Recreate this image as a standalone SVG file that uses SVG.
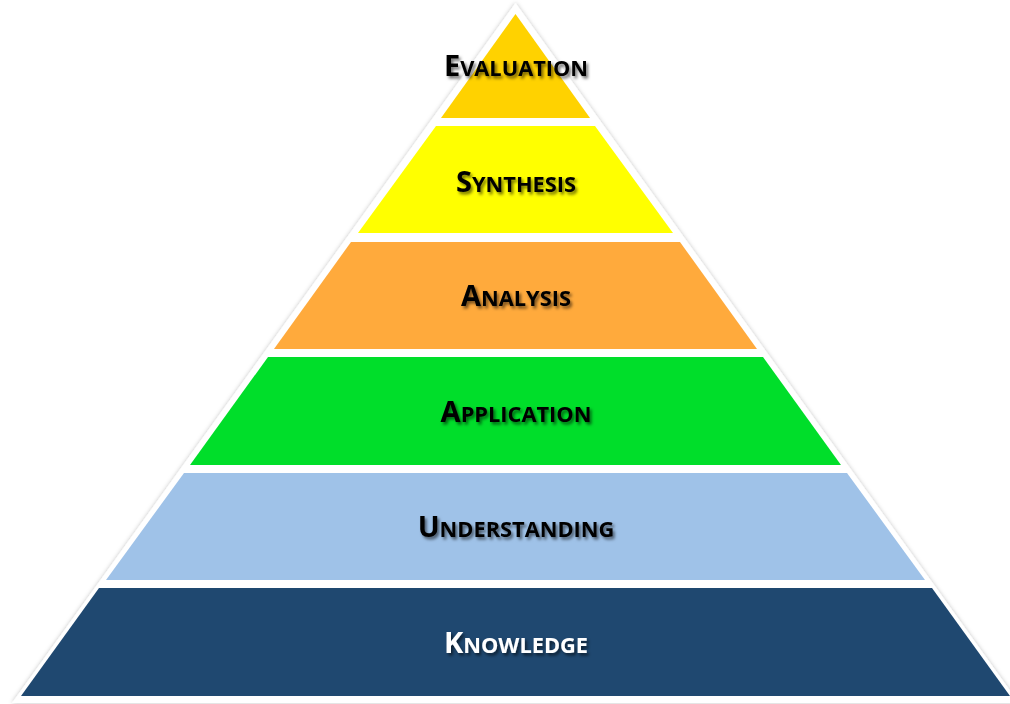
<svg xmlns="http://www.w3.org/2000/svg" width="1010" height="704" viewBox="0 0 1010 704">
<style>
.lbl{font-family:"Open Sans","Liberation Sans",sans-serif;font-weight:bold;text-anchor:middle;fill:#000;filter:url(#ts)}
.big{font-size:29px}
.sm{font-size:21.8px}
.w{fill:#fff}
</style>
<defs>
<filter id="ts" x="-20%" y="-50%" width="140%" height="200%">
<feDropShadow dx="2" dy="2.5" stdDeviation="1.6" flood-color="#000" flood-opacity="0.55"/>
</filter>
<filter id="ps" x="-5%" y="-5%" width="110%" height="110%">
<feDropShadow dx="0" dy="0" stdDeviation="2" flood-color="#000" flood-opacity="0.25"/>
</filter>
</defs>
<rect width="1010" height="704" fill="#fff"/>
<polygon points="515.5,3 1019,703 12,703" fill="#fff" filter="url(#ps)"/>
<g id="evaluation">
<polygon points="515.5,14 590,118 441,118" fill="#FFD200"/>
<text class="lbl" x="516" y="76"><tspan class="big">E</tspan><tspan class="sm">VALUATION</tspan></text>
</g>
<g id="synthesis">
<polygon points="436,126 595,126 673,233 358,233" fill="#FFFF00"/>
<text class="lbl" x="516" y="192"><tspan class="big">S</tspan><tspan class="sm">YNTHESIS</tspan></text>
</g>
<g id="analysis">
<polygon points="351,242 680,242 757,349 274,349" fill="#FFAA3C"/>
<text class="lbl" x="516" y="306"><tspan class="big">A</tspan><tspan class="sm">NALYSIS</tspan></text>
</g>
<g id="application">
<polygon points="268,357 763,357 841,465 190,465" fill="#00DE2A"/>
<text class="lbl" x="516" y="422"><tspan class="big">A</tspan><tspan class="sm">PPLICATION</tspan></text>
</g>
<g id="understanding">
<polygon points="184,473 847,473 925,580 106,580" fill="#9FC2E8"/>
<text class="lbl" x="516" y="537"><tspan class="big">U</tspan><tspan class="sm">NDERSTANDING</tspan></text>
</g>
<g id="knowledge">
<polygon points="99,588 932,588 1010,696 21,696" fill="#1F4870"/>
<text class="lbl w" x="516" y="653"><tspan class="big">K</tspan><tspan class="sm">NOWLEDGE</tspan></text>
</g>
<g id="connectors"/>
</svg>
